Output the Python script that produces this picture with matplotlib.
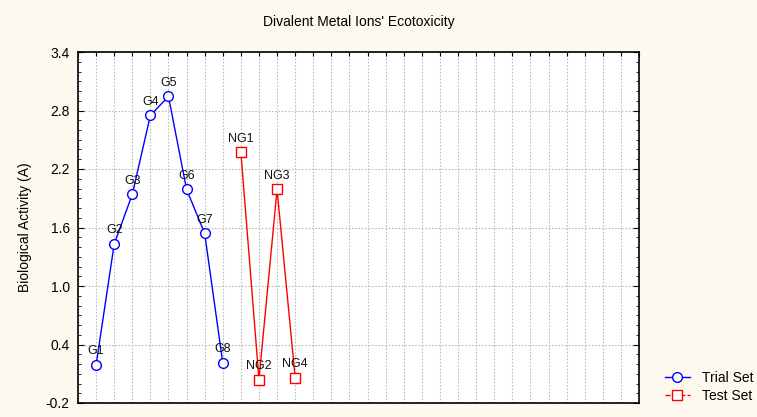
import matplotlib
matplotlib.use("Agg")
import matplotlib.pyplot as plt
from matplotlib.ticker import MultipleLocator, NullFormatter

plt.rcParams['font.family'] = ['Liberation Sans', 'DejaVu Sans']

trial_labels = ["G1", "G2", "G3", "G4", "G5", "G6", "G7", "G8"]
trial_x = [1, 2, 3, 4, 5, 6, 7, 8]
trial_y = [0.19, 1.43, 1.94, 2.75, 2.945, 1.99, 1.54, 0.21]

test_labels = ["NG1", "NG2", "NG3", "NG4"]
test_x = [9, 10, 11, 12]
test_y = [2.37, 0.04, 1.99, 0.06]

fig = plt.figure(figsize=(7.57, 4.17), dpi=100, facecolor="#FEF9EE")
ax = fig.add_axes([78/757, 1 - 403/417, (639-78)/757, (403-52)/417])
ax.set_facecolor("white")

ax.plot(trial_x, trial_y, color="#0000FF", lw=1, marker="o", ms=7,
        mfc="white", mec="#0000FF", mew=1, label="Trial Set", zorder=3)
ax.plot(test_x, test_y, color="#FF0000", lw=1, marker="s", ms=7,
        mfc="white", mec="#FF0000", mew=1, label="Test Set", zorder=3)

for lx, ly, lt in zip(trial_x, trial_y, trial_labels):
    ax.annotate(lt, (lx, ly), xytext=(0, 5.5), textcoords="offset points",
                ha="center", va="bottom", fontsize=9, color="#111111")
for lx, ly, lt in zip(test_x, test_y, test_labels):
    ax.annotate(lt, (lx, ly), xytext=(0, 5.5), textcoords="offset points",
                ha="center", va="bottom", fontsize=9, color="#111111")

ax.set_xlim(0, 31)
ax.set_ylim(-0.2, 3.4)
ax.xaxis.set_major_locator(MultipleLocator(1))
ax.xaxis.set_major_formatter(NullFormatter())
ax.yaxis.set_minor_locator(MultipleLocator(0.1))
ax.set_yticks([-0.2, 0.4, 1.0, 1.6, 2.2, 2.8, 3.4])
ax.set_yticklabels(["-0.2", "0.4", "1.0", "1.6", "2.2", "2.8", "3.4"])
ax.tick_params(axis="both", which="both", direction="in", top=True, right=True,
               labelsize=10, color="black")
ax.tick_params(axis="x", which="major", length=3, bottom=False)
ax.tick_params(axis="y", which="major", length=4, pad=6)
ax.tick_params(axis="y", which="minor", length=2.5)

ax.grid(True, which="major", color="#BBBBBB", linestyle=(0, (1.5, 1.5)), lw=0.8)
for s in ax.spines.values():
    s.set_color("black")
    s.set_linewidth(1.2)

ax.set_ylabel("Biological Activity (A)", fontsize=10, labelpad=10)
ax.set_title("Divalent Metal Ions' Ecotoxicity", fontsize=10, pad=19)

h1, = ax.plot([], [], color="#0000FF", lw=1, marker="o", ms=7, mfc="white", mec="#0000FF")
h2, = ax.plot([], [], color="#FF0000", lw=1, ls="--", marker="s", ms=7, mfc="white", mec="#FF0000")
fig.legend([h1, h2], ["Trial Set", "Test Set"], loc="center left",
           bbox_to_anchor=(658/757, 1 - 387/417), frameon=False, fontsize=10,
           handlelength=1.8, handletextpad=0.9, labelspacing=0.3, borderpad=0)

fig.savefig("out.png", dpi=100, facecolor=fig.get_facecolor())
